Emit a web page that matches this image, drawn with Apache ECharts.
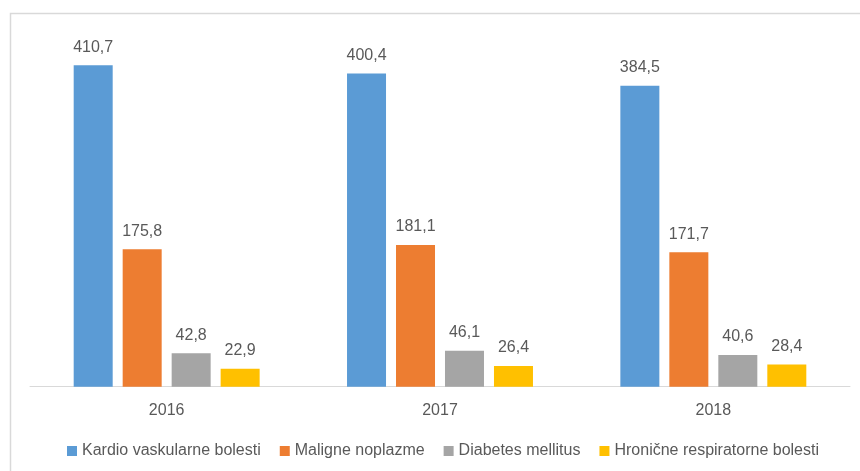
<!DOCTYPE html>
<html>
<head>
<meta charset="utf-8">
<script src="https://cdn.jsdelivr.net/npm/echarts@6/dist/echarts.min.js"></script>
<style>
html,body{margin:0;padding:0;background:#fff;}
#c{width:860px;height:471px;}
</style>
</head>
<body>
<div id="c"></div>
<script>
var categories = ['2016', '2017', '2018'];
var seriesNames = ['Kardio vaskularne bolesti', 'Maligne noplazme', 'Diabetes mellitus', 'Hronične respiratorne bolesti'];
var kardio = [410.7, 400.4, 384.5];
var maligne = [175.8, 181.1, 171.7];
var diabetes = [42.8, 46.1, 40.6];
var hronicne = [22.9, 26.4, 28.4];
var colors = ['#5B9BD5', '#ED7D31', '#A5A5A5', '#FFC000'];

var values = [kardio, maligne, diabetes, hronicne];
var font = 'Liberation Sans, Arial, sans-serif';
var chart = echarts.init(document.getElementById('c'), null, {renderer: 'canvas'});
chart.setOption({
  animation: false,
  backgroundColor: '#fff',
  graphic: [{
    type: 'rect', left: 8, top: 11, z: -1,
    shape: {width: 880, height: 480},
    style: {fill: 'none', stroke: '#d9d9d9', lineWidth: 1.5}
  }],
  grid: {left: 30, right: 10, top: 34.6, bottom: 84.3, containLabel: false},
  legend: {
    bottom: 7, left: 62,
    itemWidth: 10, itemHeight: 10, itemGap: 19,
    icon: 'rect',
    textStyle: {color: '#595959', fontSize: 16, fontFamily: font},
    data: seriesNames
  },
  xAxis: {
    type: 'category', data: categories,
    axisLine: {lineStyle: {color: '#d9d9d9', width: 1}},
    axisTick: {show: false},
    axisLabel: {color: '#595959', fontSize: 16, fontFamily: font, margin: 16}
  },
  yAxis: {
    type: 'value', min: 0, max: 450, interval: 50,
    show: false, splitLine: {show: false}
  },
  series: seriesNames.map(function (n, i) {
    return {
      name: n, type: 'bar', data: values[i],
      barWidth: 39, barGap: '25.6%',
      itemStyle: {color: colors[i]},
      label: {
        show: true, position: 'top', distance: 10,
        color: '#595959', fontSize: 16, fontFamily: font,
        formatter: function (p) { return String(p.value).replace('.', ','); }
      }
    };
  })
});
</script>
</body>
</html>
